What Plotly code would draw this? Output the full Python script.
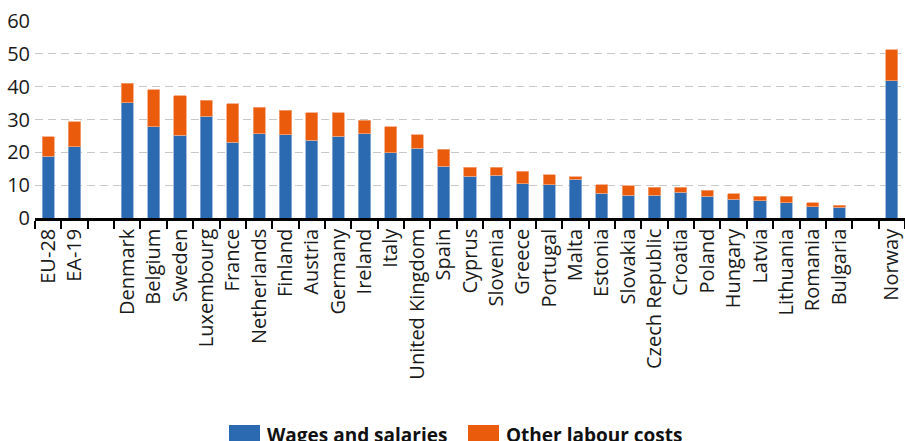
import plotly.graph_objects as go

categories = ["EU-28", "EA-19", " ",
              "Denmark", "Belgium", "Sweden", "Luxembourg", "France", "Netherlands",
              "Finland", "Austria", "Germany", "Ireland", "Italy", "United Kingdom", "Spain",
              "Cyprus", "Slovenia", "Greece", "Portugal", "Malta", "Estonia", "Slovakia",
              "Czech Republic", "Croatia", "Poland", "Hungary", "Latvia", "Lithuania",
              "Romania", "Bulgaria", "  ", "Norway"]

wages = [18.8, 21.7, None,
         35.1, 27.8, 25.2, 31.0, 23.0, 25.7,
         25.4, 23.7, 24.9, 25.7, 19.9, 21.3, 15.7,
         12.7, 13.0, 10.5, 10.2, 11.8, 7.5, 7.0,
         7.0, 7.8, 6.6, 5.7, 5.3, 4.6,
         3.5, 3.2, None, 41.8]

totals = [24.8, 29.3, None,
          41.1, 39.0, 37.2, 35.9, 34.8, 33.7,
          32.8, 32.0, 32.0, 29.7, 27.8, 25.4, 20.9,
          15.4, 15.4, 14.3, 13.1, 12.6, 10.2, 9.8,
          9.4, 9.4, 8.4, 7.4, 6.7, 6.7,
          4.7, 3.9, None, 51.2]

other = [None if (t is None or w is None) else round(t - w, 2) for t, w in zip(totals, wages)]

series_names = ["Wages and salaries", "Other labour costs"]
BLUE = "#2B6AB1"
ORANGE = "#EA5B0C"

fig = go.Figure()
fig.add_trace(go.Bar(x=categories, y=wages, name=series_names[0],
                     marker=dict(color=BLUE, line=dict(color="#8FB1DA", width=0.8))))
fig.add_trace(go.Bar(x=categories, y=other, name=series_names[1],
                     marker=dict(color=ORANGE, line=dict(color="#F4A47A", width=0.8))))

FONT = "Open Sans"

fig.update_layout(
    barmode="stack",
    bargap=0.54,
    width=905, height=441,
    margin=dict(l=35, r=0, t=21, b=223, autoexpand=False),
    paper_bgcolor="white", plot_bgcolor="white",
    showlegend=False,
    font=dict(family=FONT, size=20, color="#1a1a1a"),
)

fig.update_xaxes(
    type="category",
    range=[-0.5, len(categories) - 0.5],
    tickangle=-90,
    tickfont=dict(family=FONT, size=20, color="#1a1a1a"),
    showline=True, linecolor="black", linewidth=2.5,
    ticks="outside", tickson="boundaries", ticklen=8, tickwidth=2, tickcolor="black",
    showgrid=False, zeroline=False, automargin=False,
)
fig.update_yaxes(
    range=[0, 60],
    tickvals=[0, 10, 20, 30, 40, 50, 60],
    tickfont=dict(family=FONT, size=20, color="#1a1a1a"),
    showgrid=True, gridcolor="#C8C8C8", gridwidth=1.3, griddash="8px,5px",
    zeroline=False, showline=False, ticks="",
    ticklabelstandoff=4, automargin=False,
)

# legend drawn as swatches + labels below the plot
legend_items = [(series_names[0], BLUE, 229), (series_names[1], ORANGE, 468)]
for name, color, x0 in legend_items:
    fig.add_shape(type="rect", xref="paper", yref="paper",
                  x0=(x0 - 35) / 870, x1=(x0 + 31 - 35) / 870,
                  y0=(218 - 445) / 197, y1=(218 - 425) / 197,
                  fillcolor=color, line=dict(width=0))
    fig.add_annotation(text="<b>" + name + "</b>", xref="paper", yref="paper",
                       x=(x0 + 36 - 35) / 870, y=(218 - 420) / 197,
                       xanchor="left", yanchor="top", showarrow=False,
                       font=dict(family=FONT, size=19, color="#111111"))

fig.write_html("out.html",
               config={"displayModeBar": False},
               post_script="document.body.style.margin='0';document.body.style.overflow='hidden';")
